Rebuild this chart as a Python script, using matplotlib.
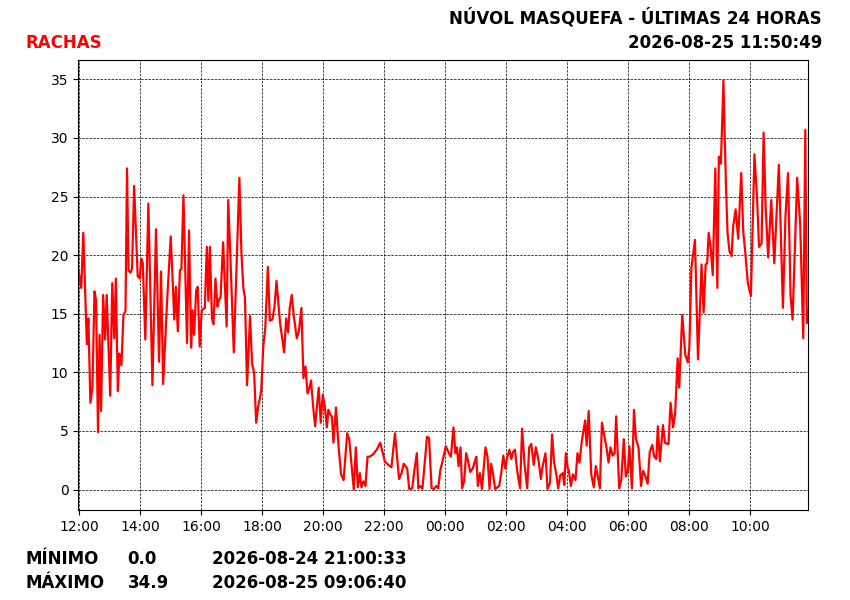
import matplotlib
matplotlib.use('Agg')
import matplotlib.pyplot as plt
import matplotlib.dates as mdates
import pandas as pd

station = 'NÚVOL MASQUEFA - ÚLTIMAS 24 HORAS'
updated = '2026-08-25 11:50:49'
start = '2026-08-24 12:00'

# minutos desde las 12:00 del primer día
minutes = [
    -2, 4, 8, 15, 18, 22, 26, 30, 33, 37, 40, 43, 47, 51, 54, 61, 65, 69, 72, 76,
    79, 83, 87, 91, 94, 97, 101, 104, 108, 115, 119, 122, 125, 130, 136, 144, 151, 157, 161, 165,
    173, 180, 187, 190, 194, 198, 201, 205, 212, 216, 220, 223, 226, 230, 233, 237,
    241, 247, 251, 254, 257, 261, 264, 268, 272, 275, 278, 283, 290, 293, 297, 304, 311, 315, 319, 323,
    326, 330, 336, 340, 344, 348, 352, 355, 358, 362, 366, 371, 375, 380, 384, 388, 395, 403, 407, 411,
    414, 418, 422, 428, 432, 437, 441, 445, 449, 453, 456, 460, 464, 471, 475, 479, 483,
    487, 490, 494, 497, 500, 505, 510, 515, 520, 527, 531, 540, 544, 548, 552, 555, 559, 563, 567, 571,
    578, 585, 592, 601, 608, 614, 621, 629, 634, 638, 645, 649, 655, 659, 664, 667, 671, 675, 684, 688,
    693, 698, 702, 706, 710, 716,
    721, 727, 731, 736, 740, 743, 746, 750, 753, 757, 761, 765, 769, 774, 778, 781, 784, 788, 792, 799,
    803, 807, 810, 814, 818, 826, 830, 834, 838, 842, 846, 850, 853, 857, 861, 867, 871, 876, 881, 885,
    889, 894, 898, 903, 908, 911, 917, 921, 926, 930, 934, 938, 942, 946, 951, 954, 957,
    961, 963, 967, 971, 976, 980, 984, 988, 995, 998, 1002, 1007, 1012, 1016, 1020, 1024, 1028, 1033, 1037, 1041,
    1045, 1049, 1053, 1056, 1062, 1066, 1071, 1075, 1079, 1082, 1087, 1091, 1095, 1100, 1105, 1109, 1114, 1118, 1122, 1127,
    1131, 1135, 1138, 1142, 1148, 1152, 1156, 1159, 1163, 1168, 1172, 1177, 1180, 1186, 1192, 1197,
    1200, 1204, 1211, 1217, 1224, 1228, 1232, 1235, 1238, 1242, 1246, 1251, 1255, 1258, 1262, 1267, 1269, 1272, 1275, 1279,
    1283, 1286, 1291, 1296, 1302, 1306, 1310, 1315, 1321, 1328, 1333, 1337, 1342, 1346, 1350, 1355, 1361, 1367, 1376, 1384,
    1389, 1394, 1399, 1403, 1412, 1418, 1424, 1428, 1431, 1434,
]

# rachas (km/h)
gusts = [
    18.8, 17.2, 21.9, 12.4, 14.6, 7.4, 8.7, 16.9, 16.2, 4.9, 13.2, 6.7, 16.6, 12.8, 16.6, 8.0, 17.6, 12.9, 18.0, 8.4,
    11.6, 10.6, 14.9, 15.2, 27.4, 18.7, 18.5, 18.9, 25.9, 18.2, 18.0, 19.7, 19.3, 12.8, 24.4, 8.9, 22.2, 10.9, 18.6, 9.0,
    16.2, 21.6, 14.5, 17.3, 13.5, 18.7, 18.8, 25.1, 12.5, 22.1, 12.1, 15.3, 13.2, 17.0, 17.3, 12.2,
    15.3, 15.5, 20.7, 16.1, 20.7, 14.6, 14.1, 18.0, 15.6, 16.2, 16.4, 21.1, 13.9, 24.7, 20.2, 11.7, 21.3, 26.6, 20.2, 17.1,
    16.4, 8.9, 14.8, 10.7, 10.0, 5.7, 7.1, 7.7, 8.5, 12.2, 13.8, 19.0, 14.4, 14.5, 15.6, 17.8, 14.2, 11.7, 14.6, 13.4,
    15.5, 16.6, 14.8, 12.9, 13.5, 15.5, 9.5, 10.5, 8.2, 8.7, 9.3, 7.1, 5.4, 8.7, 5.7, 8.1, 7.1,
    5.3, 6.8, 6.4, 6.2, 4.0, 7.0, 3.7, 1.3, 0.8, 4.8, 4.3, 0.0, 3.6, 0.2, 1.4, 0.2, 0.7, 0.3, 2.8, 2.8,
    3.0, 3.4, 4.0, 2.4, 2.1, 1.9, 4.8, 0.9, 1.4, 2.2, 1.8, 0.05, 0.1, 1.6, 3.1, 0.1, 0.3, 0.05, 4.5, 4.4,
    0.1, 0.05, 0.3, 0.1, 1.6, 2.7,
    3.7, 3.1, 2.8, 5.3, 3.1, 3.6, 2.0, 3.6, 0.1, 0.7, 3.1, 2.4, 1.5, 1.8, 2.4, 2.8, 0.3, 1.4, 0.05, 3.6,
    2.8, 0.05, 2.2, 1.3, 0.05, 0.3, 1.4, 2.9, 1.8, 2.8, 3.4, 2.6, 3.2, 3.4, 1.7, 0.1, 5.2, 2.1, 0.1, 3.6,
    3.9, 2.1, 3.6, 2.6, 0.9, 1.9, 3.1, 0.05, 0.6, 4.7, 2.3, 1.4, 0.1, 1.2, 1.4, 0.4, 3.1,
    1.8, 1.6, 0.3, 1.3, 0.8, 3.1, 2.3, 4.0, 5.9, 3.75, 6.7, 1.3, 0.2, 2.0, 1.1, 0.1, 5.7, 4.5, 3.6, 2.3,
    3.6, 2.9, 3.1, 6.25, 0.1, 0.8, 4.3, 1.1, 1.6, 3.7, 0.1, 6.8, 4.3, 3.6, 0.3, 1.6, 1.1, 0.5, 3.2, 3.8,
    2.8, 2.6, 5.4, 2.4, 5.5, 4.0, 3.9, 3.9, 7.4, 5.3, 6.5, 11.2, 8.7, 14.9, 11.5, 10.85,
    12.2, 18.9, 21.3, 11.1, 19.2, 15.1, 19.2, 19.3, 21.9, 20.6, 18.3, 27.4, 17.2, 28.4, 27.8, 34.9, 31.0, 25.9, 21.9, 20.3,
    19.9, 22.4, 23.9, 21.4, 27.0, 22.0, 20.2, 17.6, 16.5, 28.6, 25.0, 20.7, 21.0, 30.45, 24.1, 19.8, 24.7, 19.3, 27.7, 15.5,
    23.3, 27.0, 16.5, 14.5, 26.6, 22.6, 12.9, 30.7, 14.2, 15.2,
]

min_time = '2026-08-24 21:00:33'
max_time = '2026-08-25 09:06:40'

times = pd.Timestamp(start) + pd.to_timedelta(minutes, unit='min')

fig = plt.figure(figsize=(8.5, 6), dpi=100)
ax = fig.add_axes([0.092, 0.15, 0.859, 0.75])

ax.plot(times, gusts, color='red', linewidth=1.6)
ax.set_xlim(times[0], times[-1])

ax.xaxis.set_major_locator(mdates.HourLocator(byhour=range(0, 24, 2)))
ax.xaxis.set_major_formatter(mdates.DateFormatter('%H:%M'))
ax.grid(True, color='black', linestyle='--', linewidth=0.5)
ax.tick_params(labelsize=10)

# cabecera
head = dict(fontsize=12, fontweight='bold')
fig.text(0.967, 0.97, station, ha='right', va='center', **head)
fig.text(0.967, 0.928, updated, ha='right', va='center', **head)
fig.text(0.03, 0.929, 'RACHAS', ha='left', va='center', color='red', **head)

# pie: mínimo y máximo
foot = dict(fontsize=12, fontweight='bold', va='center')
fig.text(0.03, 0.068, 'MÍNIMO', **foot)
fig.text(0.15, 0.068, f'{min(gusts):.1f}', **foot)
fig.text(0.249, 0.068, min_time, **foot)
fig.text(0.03, 0.028, 'MÁXIMO', **foot)
fig.text(0.15, 0.028, f'{max(gusts):.1f}', **foot)
fig.text(0.249, 0.028, max_time, **foot)

plt.savefig('out.png', dpi=100)
